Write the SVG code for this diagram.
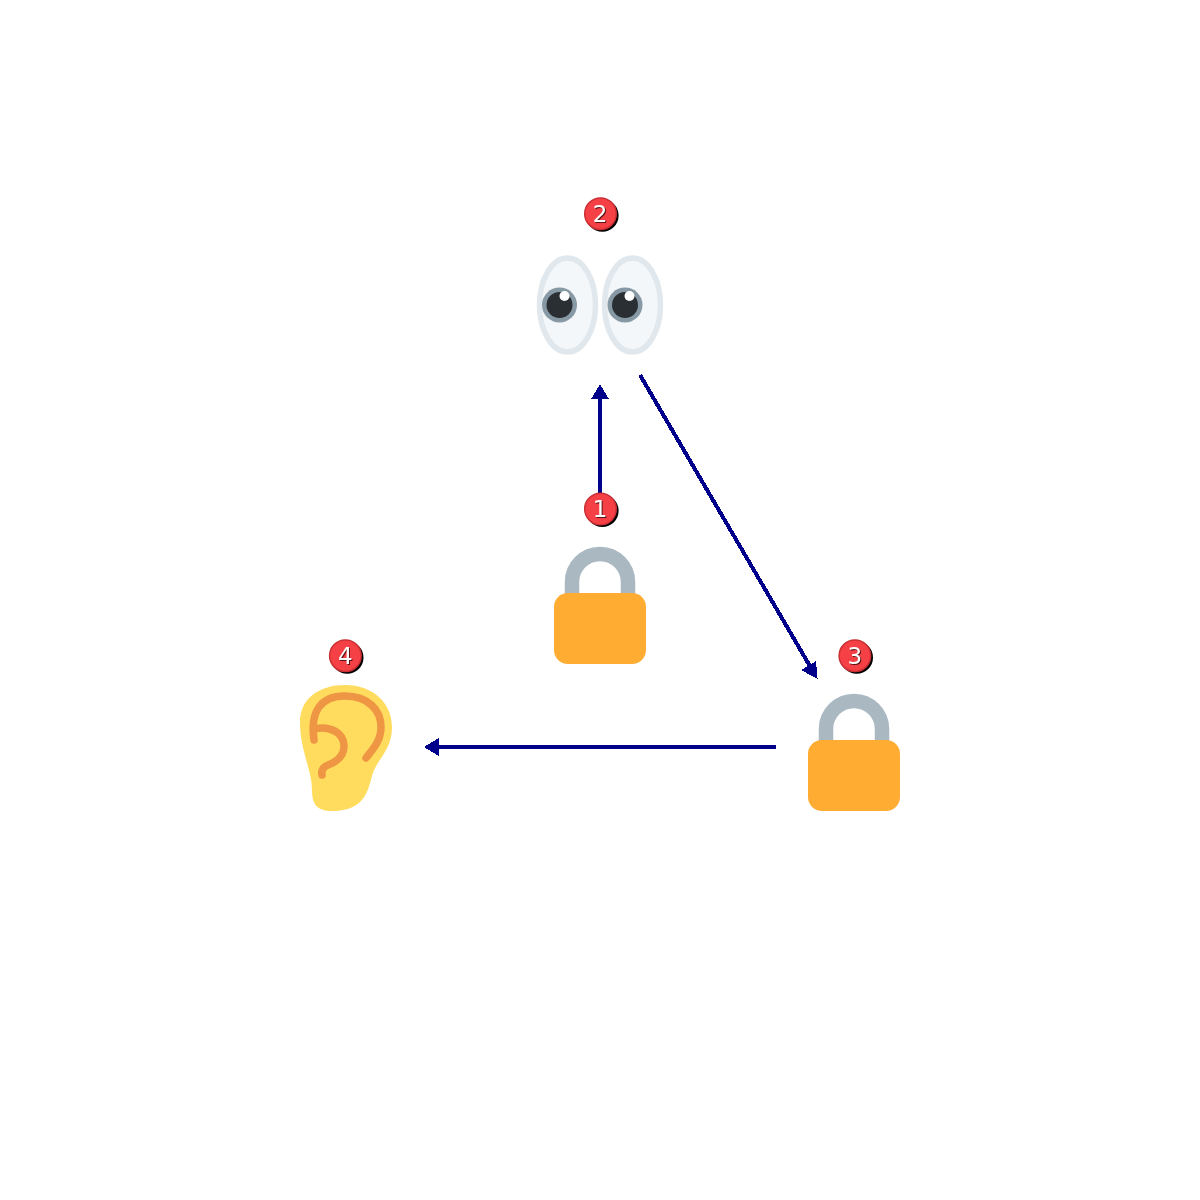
<svg xmlns="http://www.w3.org/2000/svg" width="1200" height="1200" viewBox="0 0 1200 1200">
<style>
.conn{stroke:#00008b;stroke-width:4;fill:none;shape-rendering:crispEdges}
.head{fill:#00008b;stroke:#00008b;stroke-width:1;shape-rendering:crispEdges}
.shadow{fill:#000}
.disc{fill:#f54045;stroke:#c92f33;stroke-width:1.500}
.num{font-family:"DejaVu Sans",sans-serif;font-size:23px;fill:#fff;text-anchor:middle;filter:drop-shadow(1px 1px 0.300px #5a1416)}
.shackle{fill:none;stroke:#aab8c2;stroke-width:14.500}
.body{fill:#ffac33}
.sclera{fill:#f4f7f9;stroke:#e1e8ed;stroke-width:5.500}
.iris{fill:#8899a6}
.pupil{fill:#292f33}
.glint{fill:#fff}
.ear{fill:none;stroke:#ef9645;stroke-width:7.500;stroke-linecap:round;stroke-linejoin:round}
</style>
<rect width="1200" height="1200" fill="#fff"/>
<g id="connectors">
<line class="conn" x1="600" y1="495" x2="600" y2="396"/>
<polygon class="head" points="600,385 608,398.500 592,398.500"/>
<line class="conn" x1="640" y1="375" x2="811" y2="668"/>
<polygon class="head" points="817,678 802,670 815.500,662"/>
<line class="conn" x1="776" y1="747" x2="436" y2="747"/>
<polygon class="head" points="425,747 438,739 438,755"/>
</g>
<g id="node1">
<path class="shackle" d="M572 600V582A28 28 0 0 1 628 582V600"/>
<rect class="body" x="554" y="593" width="92" height="71" rx="14"/>
<circle class="shadow" cx="602.300" cy="510.800" r="16.300"/>
<circle class="disc" cx="600.500" cy="509" r="15.800"/>
<text class="num" x="600" y="517">1</text>
</g>
<g id="node2">
<ellipse class="sclera" cx="567.500" cy="305" rx="28" ry="47"/>
<ellipse class="sclera" cx="632.500" cy="305" rx="28" ry="47"/>
<circle class="iris" cx="559.500" cy="305" r="17.500"/>
<circle class="pupil" cx="559.500" cy="305" r="13"/>
<circle class="glint" cx="564.500" cy="296" r="5"/>
<circle class="iris" cx="625" cy="305" r="17.500"/>
<circle class="pupil" cx="625" cy="305" r="13"/>
<circle class="glint" cx="629.500" cy="296" r="5"/>
<circle class="shadow" cx="602.300" cy="215.500" r="16.300"/>
<circle class="disc" cx="600.500" cy="213.700" r="15.800"/>
<text class="num" x="600" y="222">2</text>
</g>
<g id="node3">
<path class="shackle" d="M826 747V729A28 28 0 0 1 882 729V747"/>
<rect class="body" x="808" y="740" width="92" height="71" rx="14"/>
<circle class="shadow" cx="856.700" cy="657.500" r="16.300"/>
<circle class="disc" cx="854.900" cy="655.700" r="15.800"/>
<text class="num" x="854.700" y="664">3</text>
</g>
<g id="node4">
<path d="M345 685C372 685 392 702 392 727C392 748 380 757 374 770C368 784 370 811 332 811C316 811 312 803 312 790C312 770 300 750 300 722C300 698 320 685 345 685Z" fill="#ffdc5d"/>
<path class="ear" d="M314 740C310 712 320 696 345 696C368 696 381 710 381 727C381 741 373 749 366 758"/>
<path class="ear" d="M314 729C330 725 344 733 344 746C344 756 336 762 328 765C323 767 321 770 322 775"/>
<circle class="shadow" cx="347.200" cy="657.500" r="16.300"/>
<circle class="disc" cx="345.400" cy="655.700" r="15.800"/>
<text class="num" x="345.200" y="664">4</text>
</g>
</svg>
